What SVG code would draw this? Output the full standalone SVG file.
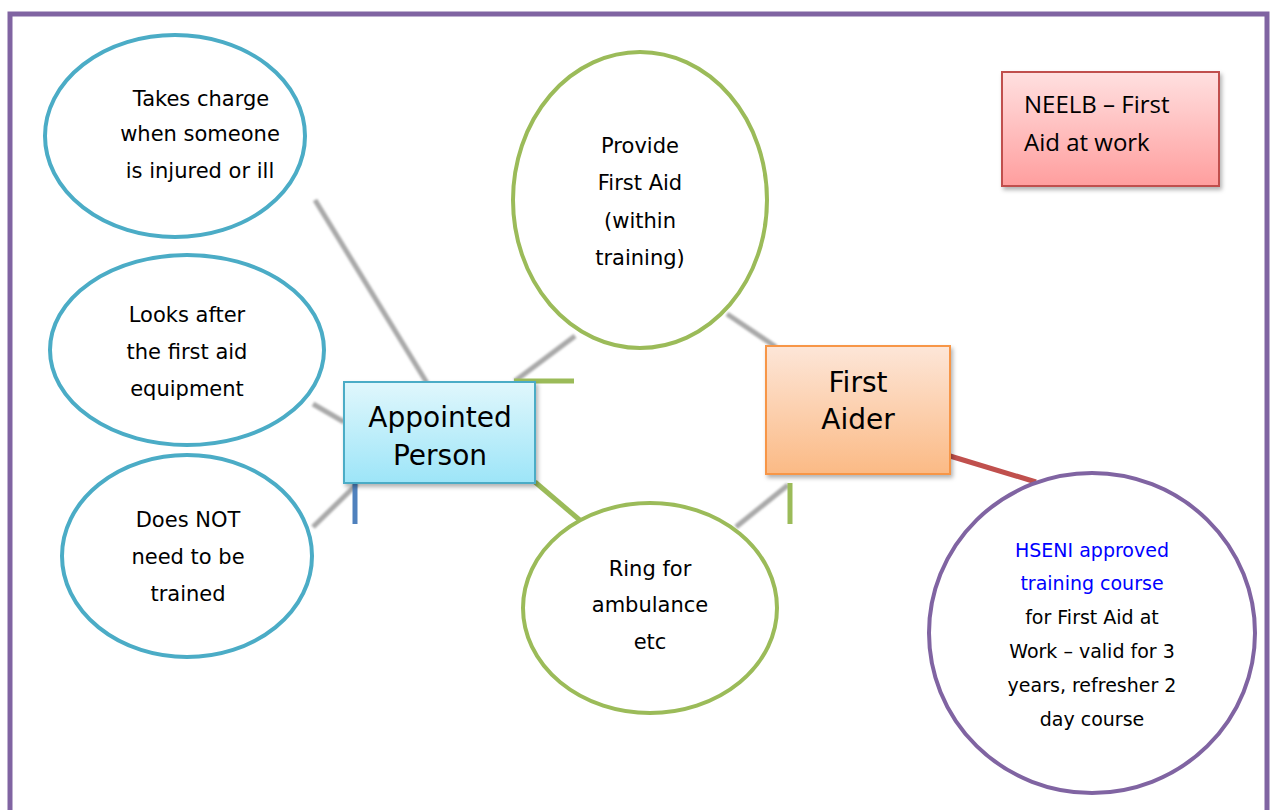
<svg xmlns="http://www.w3.org/2000/svg" width="1272" height="810" viewBox="0 0 1272 810">
<style>
.t{font-family:"Comic Sans MS","DejaVu Sans",sans-serif;font-size:21px;fill:#000;text-anchor:middle}
.big{font-size:28px}
.blue{fill:#0000FF}
.ell{fill:#fff;stroke-width:4}
.cy{stroke:#4BACC6}
.gr{stroke:#9BBB59}
.pu{stroke:#8064A2}
.gc{stroke:#a9a9a9;stroke-width:5;fill:none;filter:url(#blur)}
.bar{stroke-width:5;fill:none}
</style>
<defs>
<filter id="blur" x="-20%" y="-20%" width="140%" height="140%"><feGaussianBlur stdDeviation="1.2"/></filter>
<filter id="sh" x="-10%" y="-10%" width="130%" height="130%"><feDropShadow dx="2" dy="3" stdDeviation="2" flood-color="#000" flood-opacity="0.3"/></filter>
<linearGradient id="gBlue" x1="0" y1="0" x2="0" y2="1"><stop offset="0" stop-color="#E0F7FC"/><stop offset="1" stop-color="#9DE5F8"/></linearGradient>
<linearGradient id="gOr" x1="0" y1="0" x2="0" y2="1"><stop offset="0" stop-color="#FDE6D8"/><stop offset="1" stop-color="#FBBA85"/></linearGradient>
<linearGradient id="gRed" x1="0" y1="0" x2="0" y2="1"><stop offset="0" stop-color="#FFE0E0"/><stop offset="1" stop-color="#FF9E9E"/></linearGradient>
</defs>
<rect width="1272" height="810" fill="#fff"/>
<path d="M10 812 V14 H1267 V812" fill="none" stroke="#8064A2" stroke-width="5"/>
<g id="connectors">
<line class="gc" x1="315" y1="200" x2="427" y2="383"/>
<line class="gc" x1="313" y1="404" x2="344" y2="422"/>
<line class="gc" x1="313" y1="527" x2="357" y2="484"/>
<line class="gc" x1="575" y1="336" x2="515" y2="381"/>
<line class="gc" x1="727" y1="314" x2="776" y2="347"/>
<line class="gc" x1="736" y1="527" x2="788" y2="485"/>
<line class="bar gr" x1="514" y1="381" x2="574" y2="381"/>
<line class="bar gr" x1="535" y1="482" x2="582" y2="522"/>
<line class="bar gr" x1="790" y1="483" x2="790" y2="524"/>
<line class="bar" stroke="#4F81BD" x1="355" y1="483" x2="355" y2="524"/>
<line class="bar" stroke="#C0504D" x1="950" y1="456" x2="1036" y2="482"/>
</g>
<g id="n-takes"><ellipse class="ell cy" cx="175" cy="136" rx="130" ry="101"/>
<text class="t" x="201" y="106">Takes charge</text><text class="t" x="200" y="141">when someone</text><text class="t" x="200" y="178">is injured or ill</text></g>
<g id="n-looks"><ellipse class="ell cy" cx="187" cy="350" rx="137" ry="95"/>
<text class="t" x="187" y="322">Looks after</text><text class="t" x="187" y="359">the first aid</text><text class="t" x="187" y="396">equipment</text></g>
<g id="n-does"><ellipse class="ell cy" cx="187" cy="556" rx="125" ry="101"/>
<text class="t" x="188" y="527">Does NOT</text><text class="t" x="188" y="564">need to be</text><text class="t" x="188" y="601">trained</text></g>
<g id="n-provide"><ellipse class="ell gr" cx="640" cy="200" rx="127" ry="148"/>
<text class="t" x="640" y="153">Provide</text><text class="t" x="640" y="190">First Aid</text><text class="t" x="640" y="228">(within</text><text class="t" x="640" y="265">training)</text></g>
<g id="n-ring"><ellipse class="ell gr" cx="650" cy="608" rx="127" ry="105"/>
<text class="t" x="650" y="576">Ring for</text><text class="t" x="650" y="612">ambulance</text><text class="t" x="650" y="649">etc</text></g>
<g id="n-hseni"><ellipse class="ell pu" cx="1092" cy="633" rx="163" ry="160"/>
<text class="t blue" x="1092" y="557" style="font-size:19px">HSENI approved</text><text class="t blue" x="1092" y="590" style="font-size:19px">training course</text>
<text class="t" x="1092" y="624" style="font-size:19px">for First Aid at</text><text class="t" x="1092" y="658" style="font-size:19px">Work – valid for 3</text><text class="t" x="1092" y="692" style="font-size:19px">years, refresher 2</text><text class="t" x="1092" y="726" style="font-size:19px">day course</text></g>
<g id="n-appointed"><rect x="344" y="382" width="191" height="101" fill="url(#gBlue)" stroke="#4BACC6" stroke-width="2" filter="url(#sh)"/>
<text class="t big" x="440" y="427">Appointed</text><text class="t big" x="440" y="465">Person</text></g>
<g id="n-firstaider"><rect x="766" y="346" width="184" height="128" fill="url(#gOr)" stroke="#F79646" stroke-width="2" filter="url(#sh)"/>
<text class="t big" x="858" y="392">First</text><text class="t big" x="858" y="429">Aider</text></g>
<g id="n-neelb"><rect x="1002" y="72" width="217" height="114" fill="url(#gRed)" stroke="#C0504D" stroke-width="2" filter="url(#sh)"/>
<text x="1024" y="113" style="font-family:'Open Sans','Liberation Sans',sans-serif;font-size:24px">NEELB – First</text>
<text x="1024" y="151" style="font-family:'Open Sans','Liberation Sans',sans-serif;font-size:24px">Aid at work</text></g>
</svg>
